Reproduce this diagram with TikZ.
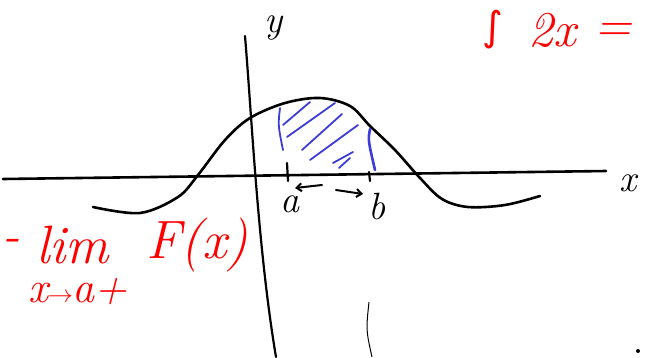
\documentclass[tikz,border=0pt]{standalone}
\usetikzlibrary{arrows.meta}
\usepackage{fontspec}
\newfontfamily\dejavuint{DejaVu Sans}
\begin{document}
\begin{tikzpicture}[x=1pt,y=-1pt,
  ink/.style={line width=2.6pt,line cap=round,line join=round},
  hatch/.style={draw={rgb,255:red,60;green,60;blue,215},line width=1.8pt,line cap=round},
  redtxt/.style={text={rgb,255:red,255;green,0;blue,0},font=\itshape\fontsize{50}{50}\selectfont,inner sep=0pt},
  blacktxt/.style={font=\itshape\fontsize{38}{38}\selectfont,inner sep=0pt}]
\useasboundingbox (0,0) rectangle (646,357);
\clip (0,0) rectangle (646,357);
% axes
\draw[ink] (3,179) -- (606,171);
\draw[ink,line width=2.2pt] (245,36) .. controls (252,120) and (258,250) .. (276,357);
% curve
\draw[ink] plot[smooth,tension=0.55] coordinates {(93,207) (140,213) (178,197) (198,175) (225,140) (250,118) (285,103) (320,98) (350,106) (370,126) (395,150) (420,178) (442,199) (468,207) (505,205) (540,196)};
% hatching
\draw[hatch] (280,108) .. controls (278,125) .. (283,150);
\draw[hatch] (310,102) -- (283,125);
\draw[hatch] (335,103) -- (287,137);
\draw[hatch] (342,114) -- (302,150);
\draw[hatch] (358,125) -- (310,160);
\draw[hatch] (353,152) -- (333,163);
\draw[hatch] (350,158) -- (339,168);
\draw[hatch,line width=2.6pt] (370,129) .. controls (368,140) .. (375,170);
% ticks
\draw[ink,line width=2.2pt] (287,163) -- (288,181);
\draw[ink,line width=2.2pt] (369,172) -- (370,181);
% arrows
\draw[ink,line width=2pt,-{Straight Barb[length=5pt,width=8pt]}] (322,185) -- (295,188);
\draw[ink,line width=2pt,-{Straight Barb[length=5pt,width=8pt]}] (336,190) -- (363,194);
% labels
\node[blacktxt] (a) at (290,204) {a};
\node[blacktxt] (b) at (377,206) {b};
\node[blacktxt] (y) at (274,28) {y};
\node[blacktxt] (x) at (628,183) {x};
% red texts
\node[redtxt,font=\dejavuint\fontsize{40}{40}\selectfont] (integral) at (493,30) {∫};
\node[redtxt,anchor=west] (twox) at (528,30) {2x};
\node[redtxt,anchor=west] (equals) at (594,32) {=};
\node[redtxt,anchor=west] (dash) at (2,245) {-};
\node[redtxt,anchor=west,font=\itshape\fontsize{54}{54}\selectfont] (lim) at (36,245) {lim};
\node[redtxt,anchor=west,font=\itshape\fontsize{54}{54}\selectfont] (fx) at (146,245) {F(x)};
\node[redtxt,anchor=west,font=\itshape\fontsize{44}{44}\selectfont] (sub) at (28,292) {x$\to$a+};
% bottom marks
\draw[line width=1pt] (369,302) .. controls (366,330) .. (372,357);
\fill (638,351) circle (2pt);
\end{tikzpicture}
\end{document}
